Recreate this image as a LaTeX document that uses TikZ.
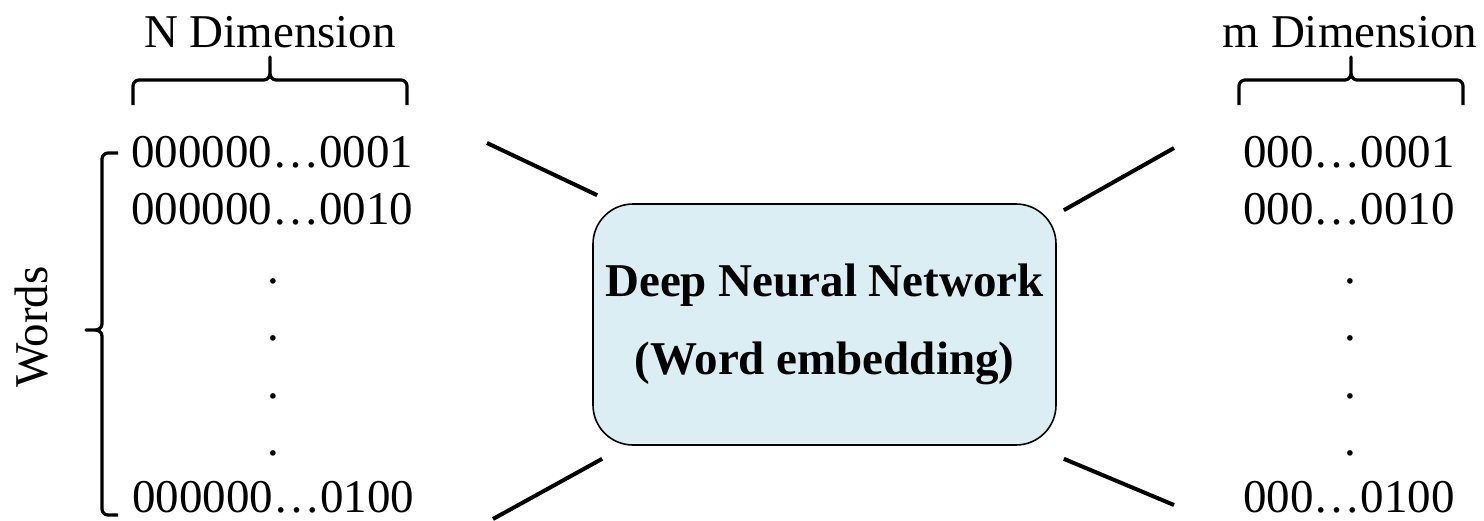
\documentclass[tikz,border=0pt]{standalone}
\usepackage{fontspec}
\setmainfont{Liberation Serif}
\usepackage{tikz}
\usetikzlibrary{positioning}
\definecolor{boxBlue}{HTML}{DAEEF3}
\tikzset{
    topBrace/.pic={
		\draw[brace] (-#1,25) [rounded corners=3pt] |- (-#1+20,0) [sharp corners] -- (-6,0) to[out=0,in=-90] (0,-7) -- (0,-23) -- (0,-7) to[out=-90,in=180] (6,0) -- (#1-20,0) [rounded corners=3pt] -| (#1,25);
	}
}
\tikzset{
    brace/.style={black, line width=1.6pt, line join=round},
    link/.style={black, line width=2pt},
    bits/.style={anchor=base west, inner sep=0pt},
    dotmark/.style={anchor=base, inner sep=0pt},
    dnnBox/.style={draw, line width=0.8pt, fill=boxBlue, rounded corners=20pt,
        minimum width=231.5pt, minimum height=120.5pt, align=center, inner sep=0pt,
        font=\bfseries\fontsize{23.5pt}{39pt}\selectfont}
}

\begin{document}
\begin{tikzpicture}[x=0.5pt, y=-0.5pt, every node/.style={font=\fontsize{23.5pt}{39pt}\selectfont}]
			\useasboundingbox (0,0) rectangle (1484,520);
			% input side
			\node[anchor=base, inner sep=0pt] (nDim) at (270,47) {N Dimension};
			\pic at (270,80) {topBrace={137}};
			\node[bits] (in1) at (131,167) {000000…0001};
			\node[bits] (in2) at (131,224) {000000…0010};
			\foreach \y [count=\i] in {283,340,398,455}
				\node[dotmark] (inDot\i) at (273,\y) {.};
			\node[bits] (inN) at (132,512) {000000…0100};
			\draw[brace] (118,153) [rounded corners=3pt] -| (102,200) [sharp corners] -- (102,324) to[out=-90,in=0] (95,330) -- (86,330) -- (95,330) to[out=0,in=90] (102,336) -- (102,480) [rounded corners=3pt] |- (118,515);
			\node[rotate=90, inner sep=0pt] (words) at (32,327) {Words};
			% network
			\node[dnnBox] (dnn) at (824.5,324.5) {Deep Neural Network\\(Word embedding)};
			% output side
			\node[anchor=base, inner sep=0pt] (mDim) at (1350,47) {m Dimension};
			\pic at (1351,80) {topBrace={112}};
			\node[bits] (out1) at (1243,167) {000…0001};
			\node[bits] (out2) at (1243,224) {000…0010};
			\foreach \y [count=\i] in {283,340,398,455}
				\node[dotmark] (outDot\i) at (1350,\y) {.};
			\node[bits] (outN) at (1243,512) {000…0100};
			% connectors
			\coordinate (inTop) at (487,143);
			\coordinate (inBot) at (493,519);
			\coordinate (outTop) at (1174,148);
			\coordinate (outBot) at (1174,505);
			\draw[link] (inTop) -- ([shift={(5,-8)}]dnn.north west);
			\draw[link] (inBot) -- ([shift={(10,13)}]dnn.south west);
			\draw[link] (outTop) -- ([shift={(7,7)}]dnn.north east);
			\draw[link] (outBot) -- ([shift={(7,13)}]dnn.south east);
		\end{tikzpicture}
\end{document}
